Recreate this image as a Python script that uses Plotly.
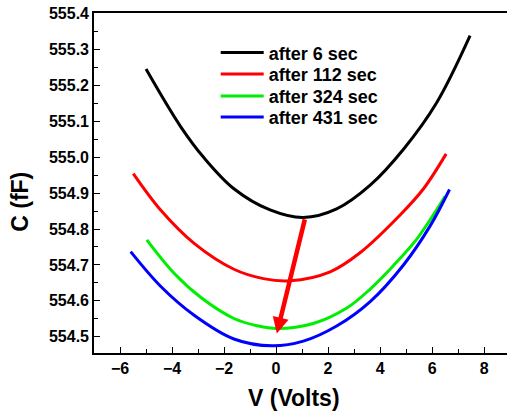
import plotly.graph_objects as go

# ---- data ----
V_6 = [-5.0, -3.67, -2.77, -1.62, -0.23, 1.05, 2.33, 3.62, 4.9, 6.18, 7.46]
C_6 = [555.245, 555.085, 554.998, 554.912, 554.853, 554.832, 554.856, 554.922, 555.022, 555.152, 555.338]

V_112 = [-5.49, -4.43, -3.15, -1.62, -0.49, 0.54, 2.08, 3.23, 4.77, 5.67, 6.54]
C_112 = [554.954, 554.852, 554.760, 554.688, 554.662, 554.656, 554.681, 554.734, 554.839, 554.912, 555.009]

V_324 = [-4.97, -3.92, -2.90, -1.62, -0.74, 0.03, 1.43, 2.72, 3.62, 4.51, 5.41, 6.18, 6.5]
C_324 = [554.770, 554.677, 554.610, 554.551, 554.531, 554.523, 554.537, 554.580, 554.633, 554.698, 554.772, 554.854, 554.891]

V_431 = [-5.59, -4.43, -3.15, -1.62, -0.15, 1.05, 2.33, 3.62, 4.9, 5.92, 6.67]
C_431 = [554.737, 554.640, 554.560, 554.494, 554.475, 554.488, 554.530, 554.598, 554.700, 554.808, 554.910]

series_names = ["after 6 sec", "after 112 sec", "after 324 sec", "after 431 sec"]
series_colors = ["#000000", "#ff0000", "#00ee00", "#0000ff"]

arrow_start = (1.12, 554.831)
arrow_end = (0.03, 554.509)

FONT = "Arial, Liberation Sans, sans-serif"

fig = go.Figure()
xs = [V_6, V_112, V_324, V_431]
ys = [C_6, C_112, C_324, C_431]
legend_ids = ["legend", "legend2", "legend3", "legend4"]
for i in range(4):
    fig.add_trace(go.Scatter(
        x=xs[i], y=ys[i], mode="lines", name=series_names[i],
        line=dict(color=series_colors[i], width=3, shape="spline", smoothing=1),
        legend=legend_ids[i],
    ))

legend_rows_y = [0.883, 0.820, 0.755, 0.693]
legend_common = dict(
    x=0.2947, xanchor="left", yanchor="middle",
    bgcolor="rgba(0,0,0,0)", borderwidth=0, itemwidth=43,
    font=dict(family=FONT, size=18, color="black", weight="bold"),
)
layout_legends = {}
for lid, yv in zip(legend_ids, legend_rows_y):
    layout_legends[lid] = dict(legend_common, y=yv)

fig.update_layout(
    width=507, height=416,
    margin=dict(l=94, r=0, t=13, b=63),
    paper_bgcolor="white", plot_bgcolor="white",
    showlegend=True,
    font=dict(family=FONT, color="black"),
    **layout_legends,
)

axis_common = dict(
    showgrid=False, zeroline=False, showline=True, linecolor="black", linewidth=1.6,
    ticks="inside", ticklen=6, tickwidth=1.4, tickcolor="black",
    tickfont=dict(family=FONT, size=16, color="black", weight="bold"),
)
fig.update_xaxes(
    range=[-7, 8.88], dtick=2, tick0=0, mirror=True,
    minor=dict(ticks="inside", ticklen=4, tickwidth=1.2, tickcolor="black", dtick=1),
    **axis_common,
)
fig.update_yaxes(
    range=[554.455, 555.401], dtick=0.1, tick0=554.5, tickformat=".1f",
    minor=dict(ticks="inside", ticklen=4, tickwidth=1.2, tickcolor="black", dtick=0.05),
    **axis_common,
)

# arrow
fig.add_annotation(
    x=arrow_end[0], y=arrow_end[1], ax=arrow_start[0], ay=arrow_start[1],
    xref="x", yref="y", axref="x", ayref="y", text="", showarrow=True,
    arrowhead=2, arrowsize=0.72, arrowwidth=4.5, arrowcolor="#ff0000", standoff=0,
)

# axis titles
fig.add_annotation(
    text="V (Volts)", xref="paper", yref="paper", x=0.484, y=-0.133,
    xanchor="center", yanchor="middle", showarrow=False,
    font=dict(family=FONT, size=23, color="black", weight="bold"),
)
fig.add_annotation(
    text="C (fF)", xref="paper", yref="paper", x=-0.179, y=0.445,
    xanchor="center", yanchor="middle", showarrow=False, textangle=-90,
    font=dict(family=FONT, size=23, color="black", weight="bold"),
)

fig.write_html("out.html", config={"displayModeBar": False},
               post_script="document.body.style.margin='0px';")
